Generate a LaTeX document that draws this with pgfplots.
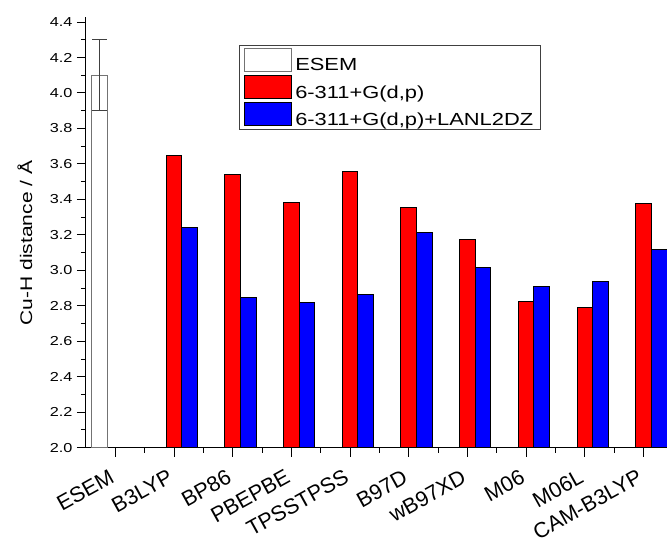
\documentclass[border=0pt]{standalone}
\usepackage{fontspec}
\setmainfont{Liberation Sans}[FakeStretch=1.25]
\newfontfamily\xlfont{Liberation Sans}
\usepackage{pgfplots}
\pgfplotsset{compat=1.18}
\pgfplotsset{
  mybarlegend/.style={legend image code/.code={\draw[##1] (0pt,-5.6pt) rectangle (47pt,17.4pt);}},
}
\begin{document}
\begin{tikzpicture}
\path[use as bounding box] (-86pt,-100.3pt) rectangle (581pt,447.7pt);
\begin{axis}[
  at={(0,0)}, anchor=south west,
  scale only axis, width=581pt, height=431pt,
  xmin=-0.5, xmax=9.4, ymin=2.0, ymax=4.43,
  axis x line*=bottom, axis y line*=left,
  axis line style={-, line width=1pt},
  ybar, bar width=0.267,
  xtick={0,...,9},
  xticklabels={ESEM,B3LYP,BP86,PBEPBE,TPSSTPSS,B97D,wB97XD,M06,M06L,CAM-B3LYP},
  minor x tick num=1,
  ytick={2.0,2.2,...,4.41},
  minor y tick num=1,
  tick align=outside,
  major tick length=9pt, minor tick length=5pt,
  tick style={line width=1pt, black},
  /pgf/number format/assume math mode=true,
  /pgf/number format/.cd, fixed, fixed zerofill, precision=1, /pgfplots/.cd,
  yticklabel style={font=\fontsize{13}{15}\selectfont, xshift=-1pt},
  xticklabel style={font=\xlfont\fontsize{21.5}{24}\selectfont, rotate=29, anchor=north east, inner sep=0pt, yshift=-7pt, xshift=-12pt},
  ylabel={Cu-H distance / Å},
  ylabel style={font=\fontsize{16.8}{20}\selectfont, at={(axis description cs:-0.105,0.475)}, anchor=center},
  legend style={at={(0.264,0.934)}, anchor=north west, draw=black!75, line width=0.8pt,
    font=\fontsize{17.5}{19}\selectfont, row sep=2pt, inner xsep=4pt, inner ysep=2pt,
    nodes={inner ysep=0.5pt, inner xsep=3.5pt},
    cells={anchor=west}},
  clip=false,
]
\addplot[bar shift=-0.267, fill=white, draw=black!55, line width=1pt, mybarlegend,
  error bars/.cd, y dir=both, y explicit,
  error bar style={line width=0.8pt, black!75},
  error mark options={rotate=90, mark size=7.5pt, line width=0.8pt, black!75}]
  coordinates {(0,4.1) +- (0,0.2)};
\addlegendentry{ESEM}
\addplot[bar shift=0, fill=red, draw=black, line width=1pt, mybarlegend]
  coordinates {(1,3.646) (2,3.543) (3,3.383) (4,3.556) (5,3.355) (6,3.175) (7,2.827) (8,2.789) (9,3.375)};
\addlegendentry{6-311+G(d,p)}
\addplot[bar shift=0.267, fill=blue, draw=black, line width=1pt, mybarlegend]
  coordinates {(1,3.242) (2,2.848) (3,2.817) (4,2.861) (5,3.214) (6,3.017) (7,2.908) (8,2.936) (9,3.120)};
\addlegendentry{6-311+G(d,p)+LANL2DZ}
\end{axis}
\end{tikzpicture}
\end{document}
